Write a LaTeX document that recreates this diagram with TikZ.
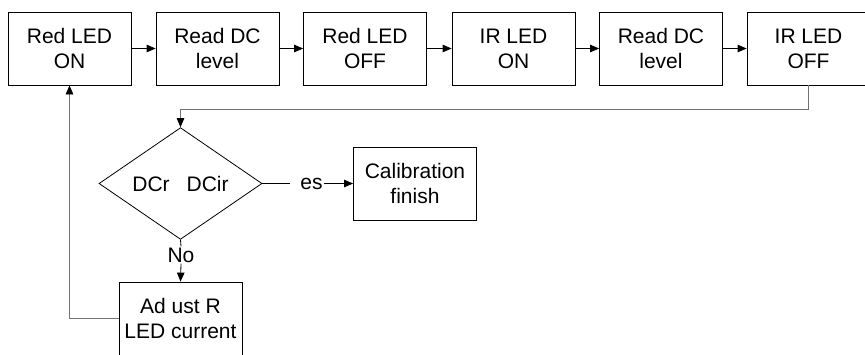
\documentclass[tikz,border=0pt]{standalone}
\usepackage{fontspec}
\setmainfont{Liberation Sans}
\usetikzlibrary{arrows.meta,shapes.geometric}
\begin{document}
\begin{tikzpicture}[x=1pt,y=-1pt,
  font=\fontsize{21}{25}\selectfont,
  box/.style={draw, line width=0.8pt, minimum width=123pt, minimum height=73pt, align=center, inner sep=0pt},
  arr/.style={-{Triangle[length=9pt,width=7.5pt,color=black]}, line width=0.8pt},
  fb/.style={draw=black!55, line width=1pt},
  lbl/.style={inner sep=1pt}]
\useasboundingbox (0,0) rectangle (865,354);
\clip (0,0) rectangle (865,354);
\node[box] (b1) at (69.5,48.5) {Red LED\\ON};
\node[box] (b2) at (217.5,48.5) {Read DC\\level};
\node[box] (b3) at (365,48.5) {Red LED\\OFF};
\node[box] (b4) at (513.5,48.5) {IR LED\\ON};
\node[box] (b5) at (661,48.5) {Read DC\\level};
\node[box] (b6) at (808.5,48.5) {IR LED\\OFF};
\draw[arr] (b1) -- (b2);
\draw[arr] (b2) -- (b3);
\draw[arr] (b3) -- (b4);
\draw[arr] (b4) -- (b5);
\draw[arr] (b5) -- (b6);
\node[draw, diamond, line width=0.8pt, minimum width=163pt, minimum height=97pt, inner sep=0pt] (dia) at (180.5,183.5) {DCr\hspace{17pt}DCir};
\draw[fb, arr] (b6.south) -- ++(0,23.5) -| (dia.north);
\node[box] (cal) at (415,183.5) {Calibration\\finish};
\coordinate (yl) at (290,183.5);
\node[lbl] (yes) at (311.5,183.5) {es};
\draw[line width=0.8pt] (dia.east) -- (yl);
\draw[arr] (yes.east) -- (cal.west);
\node[box] (adj) at (180.5,318.5) {Ad ust R\\LED current};
\node[lbl] (no) at (181,255) {No};
\draw[line width=0.8pt] (dia.south) -- (no.north);
\draw[arr] (no.south) -- (adj.north);
\draw[fb, arr] (adj.west) -| (b1.south);
\end{tikzpicture}
\end{document}
